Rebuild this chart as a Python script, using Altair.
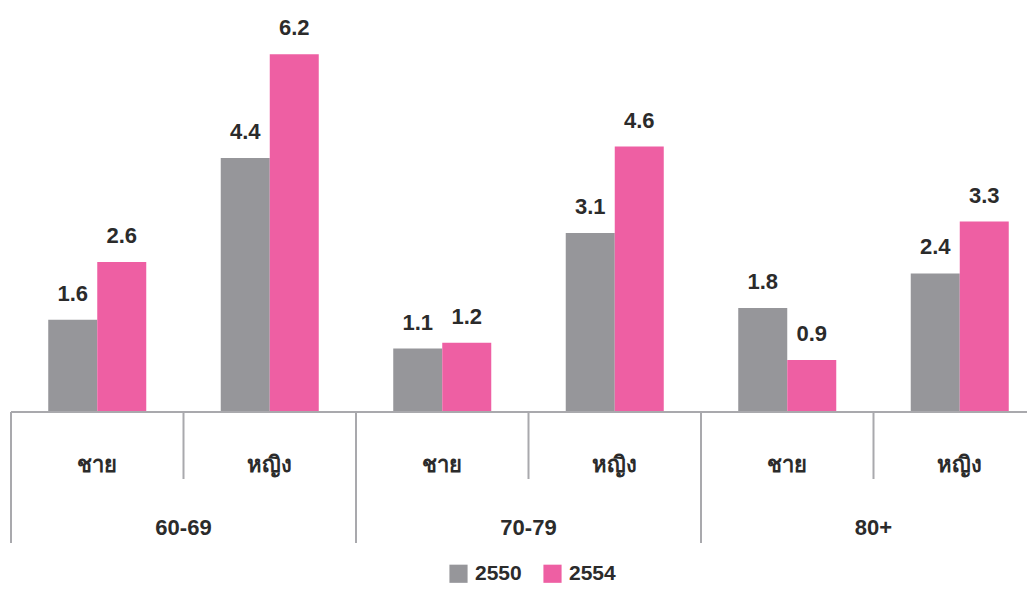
import altair as alt
import pandas as pd

ages = ["60-69", "60-69", "70-79", "70-79", "80+", "80+"]
genders = ["ชาย", "หญิง", "ชาย", "หญิง", "ชาย", "หญิง"]
years = ["2550", "2554"]
v2550 = [1.6, 4.4, 1.1, 3.1, 1.8, 2.4]
v2554 = [2.6, 6.2, 1.2, 4.6, 0.9, 3.3]

GRAY = "#96969a"
PINK = "#ee5fa3"
LINE = "#a9a9ad"
TXT = "#2b2b2b"
FONT = "Liberation Sans, Arial, sans-serif"

cats = [f"{a}|{g}" for a, g in zip(ages, genders)]
rows = []
for c, a, g, v0, v1 in zip(cats, ages, genders, v2550, v2554):
    rows.append({"cat": c, "age": a, "gender": g, "year": years[0], "value": v0})
    rows.append({"cat": c, "age": a, "gender": g, "year": years[1], "value": v1})
df = pd.DataFrame(rows)
cdf = pd.DataFrame({"cat": cats, "age": ages, "gender": genders, "idx": list(range(6))})

xs = alt.Scale(domain=cats, paddingInner=0, paddingOuter=0)
X = alt.X("cat:N", scale=xs, axis=None, sort=cats)
Y = alt.Y("value:Q", scale=alt.Scale(domain=[0, 7]), axis=None)
XO = alt.XOffset("year:N", scale=alt.Scale(domain=years, paddingInner=0, paddingOuter=0.76))

bars = alt.Chart(df).mark_bar().encode(
    x=X, xOffset=XO, y=Y,
    color=alt.Color("year:N", scale=alt.Scale(domain=years, range=[GRAY, PINK]),
                    legend=alt.Legend(title=None, orient="none", legendX=437, legendY=555,
                                      direction="horizontal", symbolType="square",
                                      symbolSize=330, symbolStrokeWidth=0, symbolOpacity=1,
                                      labelFontSize=21, labelFontWeight="bold",
                                      labelColor=TXT, labelFont=FONT, labelOffset=6,
                                      columnPadding=20, padding=0)),
)

vals = alt.Chart(df).mark_text(dy=-19, baseline="alphabetic", fontSize=22,
                                fontWeight="bold", color=TXT, font=FONT).encode(
    x=X, xOffset=XO, y=Y, text=alt.Text("value:Q", format=".1f"))

base = alt.Chart(df).mark_rule(color=LINE, strokeWidth=2).encode(y=alt.datum(0))

age_sep = alt.Chart(cdf).transform_filter("datum.idx % 2 == 0").mark_rule(
    color=LINE, strokeWidth=2).encode(
    x=alt.X("cat:N", scale=xs, axis=None, sort=cats, bandPosition=0),
    y=alt.value(404), y2=alt.value(535))

gen_sep = alt.Chart(cdf).transform_filter("datum.idx % 2 == 1").mark_rule(
    color=LINE, strokeWidth=2).encode(
    x=alt.X("cat:N", scale=xs, axis=None, sort=cats, bandPosition=0),
    y=alt.value(404), y2=alt.value(471))

gen_lbl = alt.Chart(cdf).mark_text(baseline="alphabetic", fontSize=22, fontWeight="bold",
                                   color=TXT, font=FONT).encode(
    x=X, y=alt.value(464), text="gender:N")

age_lbl = alt.Chart(cdf).transform_filter("datum.idx % 2 == 1").mark_text(
    baseline="alphabetic", fontSize=22, fontWeight="bold", color=TXT, font=FONT).encode(
    x=alt.X("cat:N", scale=xs, axis=None, sort=cats, bandPosition=0),
    y=alt.value(527), text="age:N")

chart = alt.layer(bars, vals, base, age_sep, gen_sep, gen_lbl, age_lbl).properties(
    width=1035, height=404, background="white",
    autosize=alt.AutoSizeParams(type="none"),
    padding={"left": 3, "top": 0, "right": -19, "bottom": 174},
).configure_view(stroke=None)

chart.save("out.html", embed_options={"renderer": "svg", "actions": False})
